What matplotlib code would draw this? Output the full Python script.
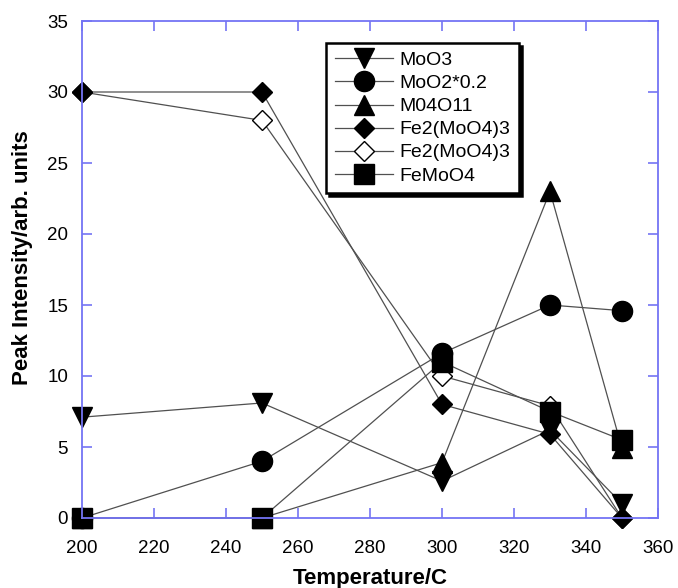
import matplotlib
matplotlib.use("Agg")
import matplotlib.pyplot as plt

plt.rcParams['font.family'] = ['Liberation Sans', 'DejaVu Sans']

# data
temps = [200, 250, 300, 330, 350]
moo3 = [7.1, 8.1, 2.6, 6.2, 1.0]
moo2 = [0, 4.0, 11.6, 15.0, 14.6]
mo4o11 = [0, 0, 3.9, 23.0, 4.9]
fe2_filled = [30, 30, 8.0, 5.9, 0]
fe2_open = [30, 28, 10.0, 7.9, 0]
femoo4 = [0, 0, 11.0, 7.5, 5.5]

x_ticks = [200, 220, 240, 260, 280, 300, 320, 340, 360]
y_ticks = [0, 5, 10, 15, 20, 25, 30, 35]

axis_blue = '#7474f4'
line_col = '#505050'

fig = plt.figure(figsize=(6.78, 5.88), dpi=100)
ax = fig.add_axes([82 / 678, 1 - 518 / 588, 576 / 678, 497 / 588])

common = dict(color=line_col, linewidth=0.9, markeredgecolor='black', markerfacecolor='black')
ax.plot(temps, moo3, marker='v', markersize=14, label='MoO3', **common)
ax.plot(temps, moo2, marker='o', markersize=14.5, label='MoO2*0.2', **common)
ax.plot(temps, mo4o11, marker='^', markersize=14, label='M04O11', **common)
ax.plot(temps, fe2_filled, marker='D', markersize=9.8, label='Fe2(MoO4)3', zorder=2.2, **common)
# open diamonds sit under the filled ones where they overlap
ax.plot(temps, fe2_open, marker='D', markersize=9.8, label='Fe2(MoO4)3',
        color=line_col, linewidth=0.9, markeredgecolor='black',
        markerfacecolor='white', markeredgewidth=1.0, zorder=1.9)
ax.plot(temps, femoo4, marker='s', markersize=14.5, label='FeMoO4', zorder=2.3, **common)

ax.set_xlim(200, 360)
ax.set_ylim(0, 35)
ax.set_xticks(x_ticks)
ax.set_yticks(y_ticks)
ax.tick_params(direction='in', length=7, width=1.2, color=axis_blue,
               top=True, right=True, labelsize=13.5)
ax.tick_params(axis='x', pad=16)
ax.tick_params(axis='y', pad=10)
for sp in ax.spines.values():
    sp.set_color(axis_blue)
    sp.set_linewidth(1.3)
for mk in ax.lines:
    mk.set_clip_on(False)

ax.set_xlabel('Temperature/C', fontsize=16, fontweight='bold')
ax.set_ylabel('Peak Intensity/arb. units', fontsize=16, fontweight='bold')
ax.xaxis.set_label_coords(0.5, -0.1)
ax.yaxis.set_label_coords(-0.085, 0.523)

leg = ax.legend(loc='upper left', bbox_to_anchor=(0.424, 0.956), fontsize=14,
                handlelength=3.0, labelspacing=0.28, handletextpad=0.3,
                borderpad=0.45, borderaxespad=0, fancybox=False, framealpha=1,
                shadow={'color': 'black', 'alpha': 1})
leg.get_frame().set_edgecolor('black')
leg.get_frame().set_linewidth(1.8)

fig.savefig('out.png', dpi=100)
